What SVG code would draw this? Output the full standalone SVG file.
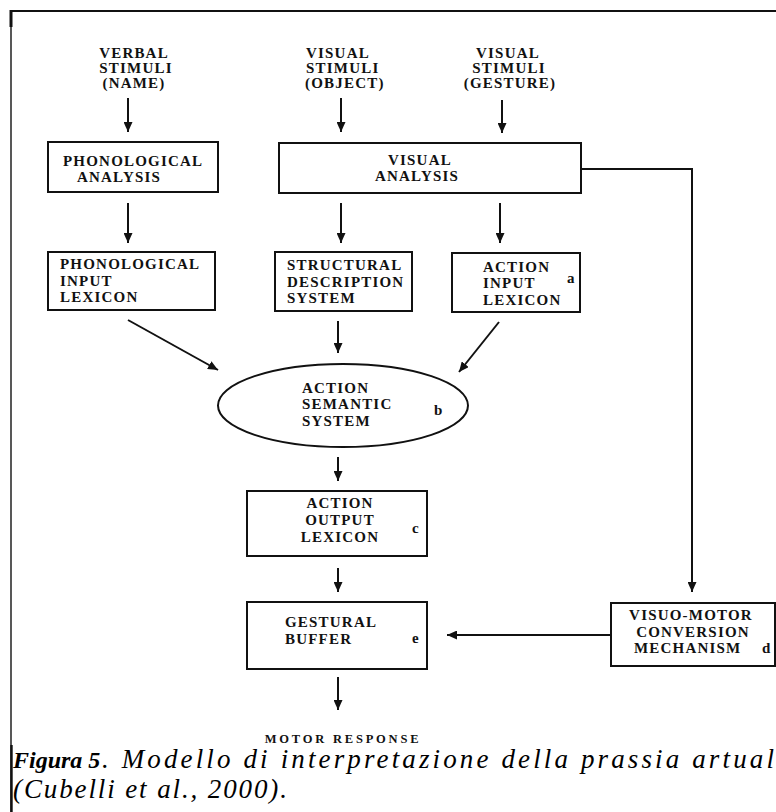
<svg xmlns="http://www.w3.org/2000/svg" width="776" height="812" viewBox="0 0 776 812">
<style>
.lbl{font-family:"Liberation Serif","Times New Roman",serif;font-weight:bold;font-size:15px;letter-spacing:1.2px;fill:#111}
.mid{text-anchor:middle}
.box{fill:#fff;stroke:#111;stroke-width:2}
.con{stroke:#111;stroke-width:2;fill:none}
.cap{font-family:"Liberation Serif","Times New Roman",serif;font-style:italic;font-size:27px;fill:#000}
</style>
<defs>
<marker id="ah" markerUnits="userSpaceOnUse" markerWidth="10" markerHeight="9" refX="10" refY="4.5" orient="auto">
<path d="M0,0 L10,4.5 L0,9 z" fill="#111"/>
</marker>
</defs>
<rect x="0" y="0" width="776" height="812" fill="#fff"/>
<g id="frame">
<line x1="10" y1="11" x2="776" y2="11" stroke="#111" stroke-width="2.2"/>
<line x1="11" y1="10" x2="11" y2="812" stroke="#111" stroke-width="1.4"/>
<line x1="11" y1="10" x2="11" y2="27" stroke="#111" stroke-width="3"/>
<line x1="11.5" y1="745" x2="11.5" y2="812" stroke="#111" stroke-width="2.4"/>
</g>
<g id="stim-verbal">
<text class="lbl mid" x="134" y="58">VERBAL</text>
<text class="lbl mid" x="136" y="73">STIMULI</text>
<text class="lbl mid" x="134" y="88">(NAME)</text>
</g>
<g id="stim-object">
<text class="lbl" x="306" y="58">VISUAL</text>
<text class="lbl" x="306" y="73">STIMULI</text>
<text class="lbl" x="305" y="88">(OBJECT)</text>
</g>
<g id="stim-gesture">
<text class="lbl mid" x="508" y="58">VISUAL</text>
<text class="lbl mid" x="509" y="73">STIMULI</text>
<text class="lbl mid" x="510" y="88">(GESTURE)</text>
</g>
<g id="phon-analysis">
<rect class="box" x="48" y="142" width="170" height="50"/>
<text class="lbl" x="63" y="166">PHONOLOGICAL</text>
<text class="lbl" x="77" y="182">ANALYSIS</text>
</g>
<g id="visual-analysis">
<rect class="box" x="279" y="143" width="302" height="50"/>
<text class="lbl" x="388" y="165">VISUAL</text>
<text class="lbl" x="375" y="181">ANALYSIS</text>
</g>
<g id="phon-input-lexicon">
<rect class="box" x="48" y="252" width="167" height="58"/>
<text class="lbl" x="60" y="269">PHONOLOGICAL</text>
<text class="lbl" x="60" y="286">INPUT</text>
<text class="lbl" x="60" y="302">LEXICON</text>
</g>
<g id="structural-description">
<rect class="box" x="275" y="252" width="137" height="59"/>
<text class="lbl" x="287" y="270">STRUCTURAL</text>
<text class="lbl" x="287" y="287">DESCRIPTION</text>
<text class="lbl" x="287" y="303">SYSTEM</text>
</g>
<g id="action-input-lexicon">
<rect class="box" x="452" y="253" width="128" height="59"/>
<text class="lbl" x="483" y="272">ACTION</text>
<text class="lbl" x="483" y="288">INPUT</text>
<text class="lbl" x="483" y="305">LEXICON</text>
<text class="lbl" x="567" y="283">a</text>
</g>
<g id="action-semantic">
<ellipse class="box" cx="343" cy="405.5" rx="125" ry="41.5"/>
<text class="lbl" x="302" y="393">ACTION</text>
<text class="lbl" x="302" y="409">SEMANTIC</text>
<text class="lbl" x="302" y="426">SYSTEM</text>
<text class="lbl" x="434" y="415">b</text>
</g>
<g id="action-output-lexicon">
<rect class="box" x="247" y="491" width="180" height="65"/>
<text class="lbl mid" x="340" y="508">ACTION</text>
<text class="lbl mid" x="340" y="525">OUTPUT</text>
<text class="lbl mid" x="340" y="542">LEXICON</text>
<text class="lbl" x="412" y="533">c</text>
</g>
<g id="gestural-buffer">
<rect class="box" x="247" y="602" width="180" height="67"/>
<text class="lbl" x="285" y="627">GESTURAL</text>
<text class="lbl" x="285" y="644">BUFFER</text>
<text class="lbl" x="412" y="643">e</text>
</g>
<g id="visuo-motor">
<rect class="box" x="611" y="603" width="164" height="63"/>
<text class="lbl mid" x="691" y="620">VISUO-MOTOR</text>
<text class="lbl mid" x="693" y="637">CONVERSION</text>
<text class="lbl" x="634" y="653">MECHANISM</text>
<text class="lbl" x="762" y="653">d</text>
</g>
<g id="motor-response">
<text class="lbl mid" x="343" y="743" style="font-size:12.5px;letter-spacing:2.8px">MOTOR RESPONSE</text>
</g>
<g id="connectors">
<line class="con" x1="128" y1="98" x2="128" y2="132" marker-end="url(#ah)"/>
<line class="con" x1="341" y1="98" x2="341" y2="132" marker-end="url(#ah)"/>
<line class="con" x1="502" y1="100" x2="502" y2="133" marker-end="url(#ah)"/>
<line class="con" x1="128" y1="203" x2="128" y2="243" marker-end="url(#ah)"/>
<line class="con" x1="341" y1="203" x2="341" y2="243" marker-end="url(#ah)"/>
<line class="con" x1="500" y1="203" x2="500" y2="243" marker-end="url(#ah)"/>
<line class="con" x1="128" y1="320" x2="218" y2="370" marker-end="url(#ah)"/>
<line class="con" x1="338" y1="321" x2="338" y2="353" marker-end="url(#ah)"/>
<line class="con" x1="499" y1="322" x2="459" y2="372" marker-end="url(#ah)"/>
<line class="con" x1="338" y1="457" x2="338" y2="481" marker-end="url(#ah)"/>
<line class="con" x1="338" y1="568" x2="338" y2="592" marker-end="url(#ah)"/>
<line class="con" x1="338" y1="677" x2="338" y2="710" marker-end="url(#ah)"/>
<polyline class="con" points="581,169 692,169 692,592" marker-end="url(#ah)"/>
<line class="con" x1="611" y1="635" x2="447" y2="635" marker-end="url(#ah)"/>
</g>
<g id="caption">
<text class="cap" x="13" y="768" font-weight="bold" style="font-size:24px">Figura 5</text>
<text class="cap" x="102" y="768" textLength="687" lengthAdjust="spacing">. Modello di interpretazione della prassia artuale</text>
<text class="cap" x="13" y="798" textLength="274" lengthAdjust="spacing">(Cubelli et al., 2000).</text>
</g>
</svg>
